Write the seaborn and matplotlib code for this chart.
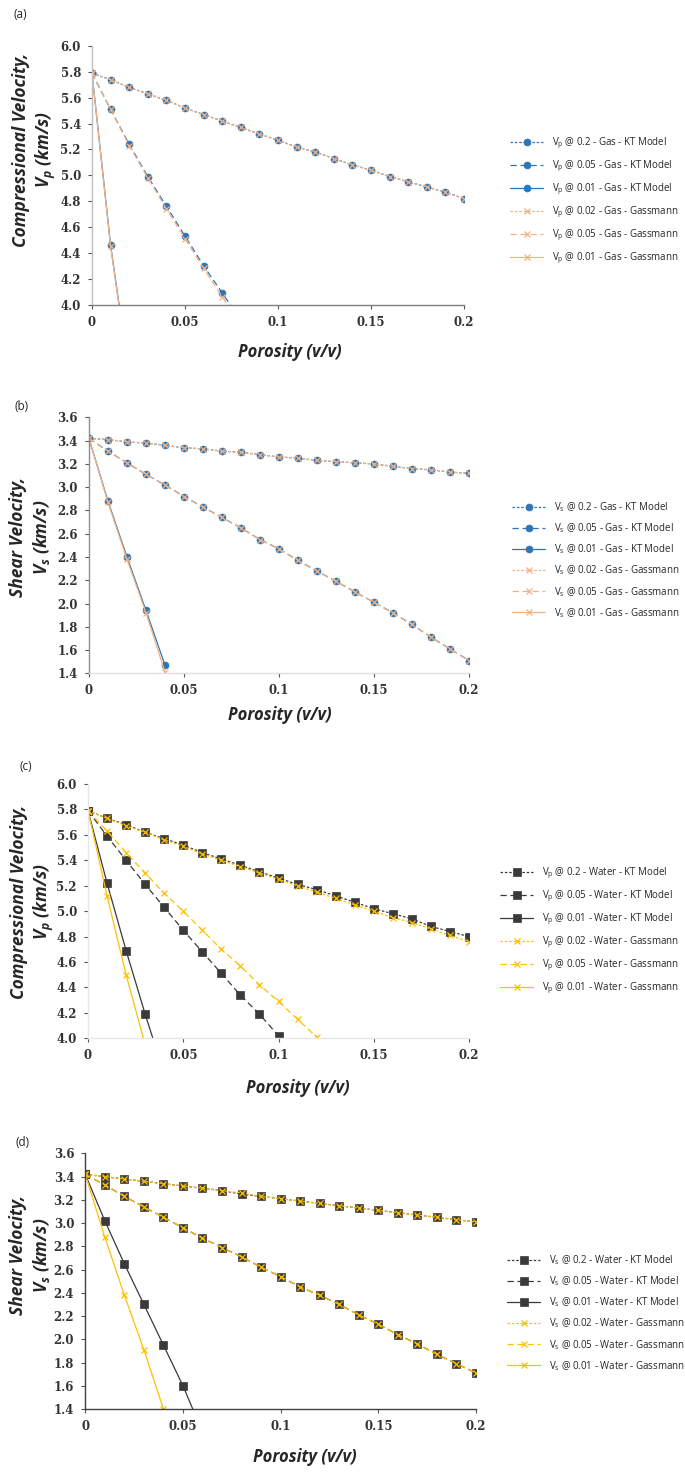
import matplotlib
matplotlib.use('Agg')
import matplotlib.pyplot as plt
import seaborn as sns

# Porosity steps (v/v)
phi = [0.00, 0.01, 0.02, 0.03, 0.04, 0.05, 0.06, 0.07, 0.08, 0.09, 0.10,
       0.11, 0.12, 0.13, 0.14, 0.15, 0.16, 0.17, 0.18, 0.19, 0.20]

# (a) Vp - gas
vp_gas_kt_02 = [5.79, 5.74, 5.68, 5.63, 5.58, 5.52, 5.47, 5.42, 5.37, 5.32, 5.27,
                5.22, 5.18, 5.13, 5.08, 5.04, 4.99, 4.95, 4.91, 4.87, 4.82]
vp_gas_kt_005 = [5.79, 5.51, 5.24, 4.99, 4.76, 4.53, 4.30, 4.09, 3.88]
vp_gas_kt_001 = [5.79, 4.46, 3.45]
vp_gas_gm_02 = [5.79, 5.74, 5.68, 5.63, 5.58, 5.52, 5.47, 5.42, 5.37, 5.32, 5.27,
                5.22, 5.18, 5.13, 5.08, 5.04, 4.99, 4.95, 4.91, 4.87, 4.82]
vp_gas_gm_005 = [5.79, 5.51, 5.23, 4.98, 4.74, 4.51, 4.28, 4.06, 3.85]
vp_gas_gm_001 = [5.79, 4.45, 3.44]

# (b) Vs - gas
vs_gas_kt_02 = [3.42, 3.41, 3.39, 3.38, 3.36, 3.34, 3.33, 3.31, 3.30, 3.28, 3.26,
                3.25, 3.23, 3.22, 3.21, 3.20, 3.18, 3.16, 3.15, 3.13, 3.12]
vs_gas_kt_005 = [3.42, 3.31, 3.21, 3.11, 3.02, 2.92, 2.83, 2.74, 2.65, 2.55, 2.47,
                 2.37, 2.28, 2.19, 2.10, 2.01, 1.92, 1.82, 1.71, 1.61, 1.51]
vs_gas_kt_001 = [3.42, 2.88, 2.40, 1.94, 1.47]
vs_gas_gm_02 = [3.42, 3.41, 3.39, 3.38, 3.36, 3.34, 3.33, 3.31, 3.30, 3.28, 3.26,
                3.25, 3.23, 3.22, 3.21, 3.20, 3.18, 3.16, 3.15, 3.13, 3.12]
vs_gas_gm_005 = [3.42, 3.31, 3.21, 3.11, 3.02, 2.92, 2.83, 2.74, 2.65, 2.55, 2.47,
                 2.37, 2.28, 2.19, 2.10, 2.01, 1.92, 1.82, 1.71, 1.61, 1.51]
vs_gas_gm_001 = [3.42, 2.87, 2.38, 1.92, 1.41]

# (c) Vp - water
vp_wat_kt_02 = [5.79, 5.73, 5.68, 5.62, 5.57, 5.52, 5.46, 5.41, 5.36, 5.31, 5.26,
                5.21, 5.17, 5.12, 5.07, 5.02, 4.98, 4.94, 4.88, 4.84, 4.80]
vp_wat_kt_005 = [5.79, 5.59, 5.40, 5.21, 5.03, 4.85, 4.68, 4.51, 4.34, 4.19, 4.02]
vp_wat_kt_001 = [5.79, 5.22, 4.69, 4.19, 3.72]
vp_wat_gm_02 = [5.79, 5.73, 5.67, 5.62, 5.56, 5.51, 5.45, 5.40, 5.35, 5.30, 5.25,
                5.20, 5.15, 5.10, 5.05, 5.00, 4.95, 4.91, 4.86, 4.81, 4.76]
vp_wat_gm_005 = [5.79, 5.63, 5.46, 5.30, 5.14, 5.00, 4.85, 4.70, 4.57, 4.42, 4.29,
                 4.15, 4.01]
vp_wat_gm_001 = [5.79, 5.12, 4.50, 3.95]

# (d) Vs - water
vs_wat_kt_02 = [3.42, 3.40, 3.38, 3.36, 3.34, 3.32, 3.30, 3.28, 3.25, 3.23, 3.21,
                3.19, 3.17, 3.15, 3.13, 3.11, 3.09, 3.07, 3.05, 3.03, 3.01]
vs_wat_kt_005 = [3.42, 3.33, 3.23, 3.14, 3.05, 2.96, 2.87, 2.79, 2.71, 2.62, 2.54,
                 2.45, 2.38, 2.30, 2.21, 2.13, 2.04, 1.96, 1.87, 1.79, 1.71]
vs_wat_kt_001 = [3.42, 3.02, 2.65, 2.30, 1.95, 1.60, 1.20]
vs_wat_gm_02 = [3.42, 3.40, 3.38, 3.36, 3.34, 3.32, 3.30, 3.28, 3.26, 3.23, 3.21,
                3.19, 3.17, 3.15, 3.13, 3.11, 3.09, 3.07, 3.05, 3.03, 3.01]
vs_wat_gm_005 = [3.42, 3.33, 3.23, 3.14, 3.05, 2.96, 2.87, 2.79, 2.71, 2.62, 2.54,
                 2.45, 2.38, 2.30, 2.21, 2.13, 2.04, 1.96, 1.87, 1.79, 1.71]
vs_wat_gm_001 = [3.42, 2.88, 2.38, 1.91, 1.40]

x_ticks = [0, 0.05, 0.1, 0.15, 0.2]
x_tick_labels = ['0', '0.05', '0.1', '0.15', '0.2']

sns.set_style('ticks')
plt.rcParams['font.family'] = ['Open Sans', 'DejaVu Sans']

fig = plt.figure(figsize=(6.85, 14.72), dpi=100)

BLUE = '#2E75B6'
ORANGE = '#F4B183'
DARK = '#3A3A3A'
YELLOW = '#FFC000'
DOT = (0, (2, 1.5))
DASH = (0, (5, 3))

sub = {'Vp': 'V$_\\mathregular{p}$', 'Vs': 'V$_\\mathregular{s}$'}

panels = [
    dict(tag='(a)', fluid='Gas', v='Vp', ylim=(4.0, 6.0), yt=[4.0 + 0.2 * i for i in range(11)],
         rect=[0.1343, 0.7931, 0.5431, 0.1756],
         kt=[vp_gas_kt_02, vp_gas_kt_005, vp_gas_kt_001],
         gm=[vp_gas_gm_02, vp_gas_gm_005, vp_gas_gm_001],
         kc=BLUE, gc=ORANGE, km='o', ylab='Compressional Velocity,',
         lc='#BFBFBF', bc='#7F7F7F',
         xl=(0.532, -0.184), yl=(-0.153, 0.598), tag_xy=(20, 15), leg=(510, 201)),
    dict(tag='(b)', fluid='Gas', v='Vs', ylim=(1.4, 3.6), yt=[1.4 + 0.2 * i for i in range(12)],
         rect=[0.1299, 0.5426, 0.5547, 0.1738],
         kt=[vs_gas_kt_02, vs_gas_kt_005, vs_gas_kt_001],
         gm=[vs_gas_gm_02, vs_gas_gm_005, vs_gas_gm_001],
         kc=BLUE, gc=ORANGE, km='o', ylab='Shear Velocity,',
         lc='#8C8C8C', bc='#E0E0E0',
         xl=(0.503, -0.163), yl=(-0.153, 0.533), tag_xy=(22, 407), leg=(512, 560)),
    dict(tag='(c)', fluid='Water', v='Vp', ylim=(4.0, 6.0), yt=[4.0 + 0.2 * i for i in range(11)],
         rect=[0.1285, 0.2946, 0.5562, 0.1728],
         kt=[vp_wat_kt_02, vp_wat_kt_005, vp_wat_kt_001],
         gm=[vp_wat_gm_02, vp_wat_gm_005, vp_wat_gm_001],
         kc=DARK, gc=YELLOW, km='s', ylab='Compressional Velocity,',
         lc='#E6E6E6', bc='#E6E6E6',
         xl=(0.551, -0.195), yl=(-0.145, 0.536), tag_xy=(26, 767), leg=(500, 931)),
    dict(tag='(d)', fluid='Water', v='Vs', ylim=(1.4, 3.6), yt=[1.4 + 0.2 * i for i in range(12)],
         rect=[0.1245, 0.0428, 0.5704, 0.1736],
         kt=[vs_wat_kt_02, vs_wat_kt_005, vs_wat_kt_001],
         gm=[vs_wat_gm_02, vs_wat_gm_005, vs_wat_gm_001],
         kc=DARK, gc=YELLOW, km='s', ylab='Shear Velocity,',
         lc='#404040', bc='#404040',
         xl=(0.562, -0.188), yl=(-0.139, 0.603), tag_xy=(23, 1142), leg=(507, 1313)),
]

styles = [DOT, DASH, '-']
kt_levels = ['0.2', '0.05', '0.01']
gm_levels = ['0.02', '0.05', '0.01']

W, H = 685, 1472
for p in panels:
    ax = fig.add_axes(p['rect'])
    v = sub[p['v']]
    for vals, ls, lev in zip(p['kt'], styles, kt_levels):
        sns.lineplot(x=phi[:len(vals)], y=vals, ax=ax, color=p['kc'], linestyle=ls,
                     linewidth=0.9, marker=p['km'], markersize=5.5 if p['km'] == 's' else 5,
                     markerfacecolor=p['kc'], markeredgecolor=p['kc'], markeredgewidth=0.5,
                     label=f"{v} @ {lev} - {p['fluid']} - KT Model")
    for vals, ls, lev in zip(p['gm'], styles, gm_levels):
        sns.lineplot(x=phi[:len(vals)], y=vals, ax=ax, color=p['gc'], linestyle=ls,
                     linewidth=0.9, marker='x', markersize=5,
                     markeredgecolor=p['gc'], markeredgewidth=0.9,
                     label=f"{v} @ {lev} - {p['fluid']} - Gassmann")

    ax.set_xlim(0, 0.2)
    ax.set_ylim(*p['ylim'])
    ax.set_yticks(p['yt'], [f'{t:.1f}' for t in p['yt']])
    ax.set_xticks(x_ticks, x_tick_labels)
    for lab in ax.get_xticklabels() + ax.get_yticklabels():
        lab.set_fontfamily('DejaVu Serif')
        lab.set_fontweight('bold')
        lab.set_fontsize(8.5)
        lab.set_color('#333333')
    ax.tick_params(axis='both', length=3, width=0.8, pad=5, color='#555555')
    sns.despine(ax=ax)
    ax.spines['left'].set_color(p['lc'])
    ax.spines['bottom'].set_color(p['bc'])
    ax.spines['left'].set_linewidth(1.0)
    ax.spines['bottom'].set_linewidth(1.0)

    ax.set_xlabel('Porosity (v/v)', fontsize=12, fontweight='bold', fontstyle='italic')
    ax.xaxis.label.set_va('center')
    ax.xaxis.set_label_coords(*p['xl'])
    ax.set_ylabel(f"{p['ylab']}\n{v} (km/s)", fontsize=12.5, fontweight='bold',
                  fontstyle='italic', linespacing=1.25)
    ax.yaxis.label.set_va('center')
    ax.yaxis.set_label_coords(*p['yl'])

    fig.text(p['tag_xy'][0] / W, 1 - p['tag_xy'][1] / H, p['tag'], ha='center', va='center',
             fontsize=8.5)

    ax.legend(loc='center left', bbox_to_anchor=(p['leg'][0] / W, 1 - p['leg'][1] / H),
              bbox_transform=fig.transFigure, frameon=False, fontsize=7,
              handlelength=3.4, handletextpad=0.9, labelspacing=0.75,
              borderpad=0, borderaxespad=0)

fig.savefig('out.png', dpi=100)
